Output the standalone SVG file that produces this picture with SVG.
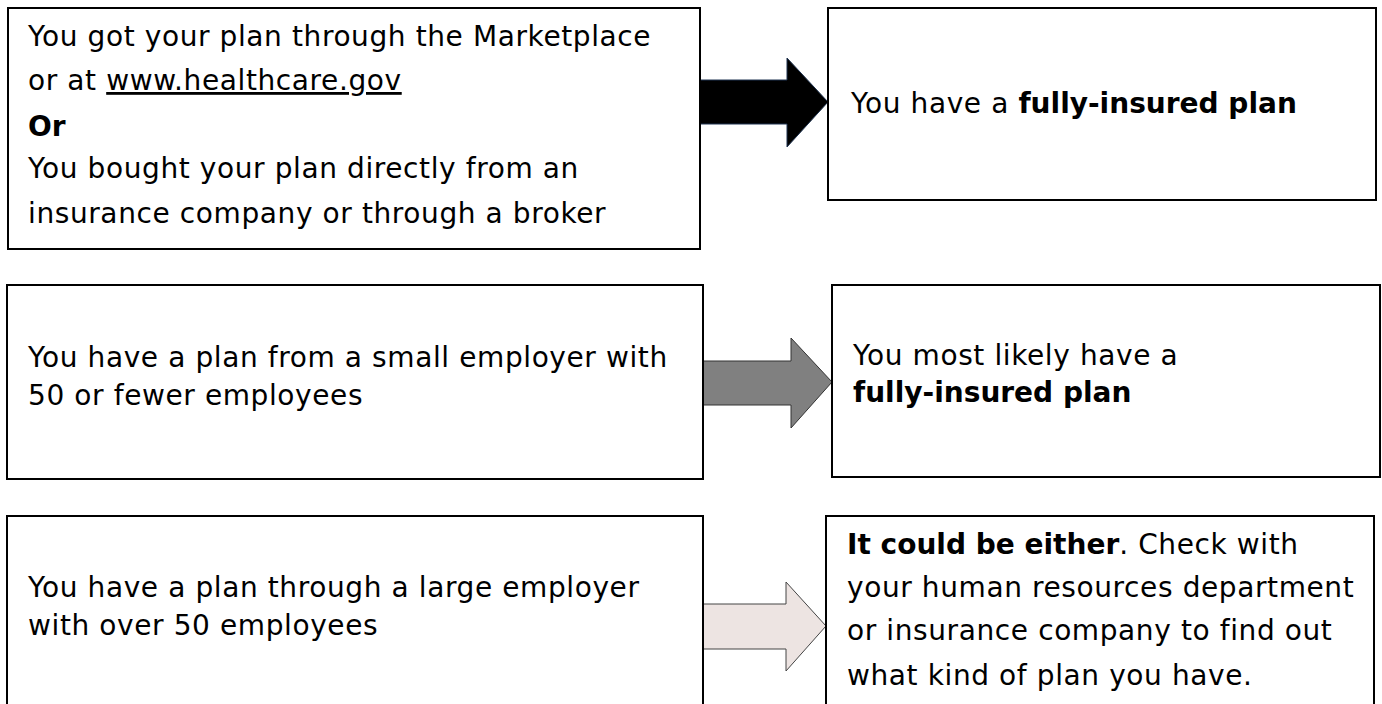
<svg xmlns="http://www.w3.org/2000/svg" width="1382" height="704" viewBox="0 0 1382 704">
<style>
.box{fill:#fff;stroke:#000;stroke-width:2}
.t{font-family:"DejaVu Sans","Liberation Sans",sans-serif;font-size:28px;letter-spacing:0.6px;fill:#000}
.b{font-weight:bold;letter-spacing:0px}
.u{text-decoration:underline}
</style>
<rect width="1382" height="704" fill="#fff"/>
<g id="connectors">
<polygon points="700,80 787,80 787,58 828,102 787,147 787,124 700,124" fill="#000" stroke="#1f3350" stroke-width="1"/>
<polygon points="703,361 791,361 791,338 832,382 791,428 791,405 703,405" fill="#808080" stroke="#333" stroke-width="1"/>
<polygon points="703,604 786,604 786,582 826,626 786,671 786,649 703,649" fill="#ede4e2" stroke="#444" stroke-width="1"/>
</g>
<g id="node-marketplace">
<rect class="box" x="8" y="8" width="692" height="241"/>
<text class="t" x="28" y="46">You got your plan through the Marketplace</text>
<text class="t" x="28" y="90">or at <tspan class="u">www.healthcare.gov</tspan></text>
<text class="t b" x="28" y="136">Or</text>
<text class="t" x="28" y="178">You bought your plan directly from an</text>
<text class="t" x="28" y="223">insurance company or through a broker</text>
</g>
<g id="node-fully-insured-1">
<rect class="box" x="828" y="8" width="548" height="192"/>
<text class="t" x="851" y="113">You have a <tspan class="b">fully-insured plan</tspan></text>
</g>
<g id="node-small-employer">
<rect class="box" x="7" y="285" width="696" height="194"/>
<text class="t" x="28" y="367">You have a plan from a small employer with</text>
<text class="t" x="28" y="405">50 or fewer employees</text>
</g>
<g id="node-fully-insured-2">
<rect class="box" x="832" y="285" width="548" height="192"/>
<text class="t" x="853" y="365">You most likely have a</text>
<text class="t b" x="853" y="402">fully-insured plan</text>
</g>
<g id="node-large-employer">
<rect class="box" x="7" y="516" width="696" height="200"/>
<text class="t" x="28" y="597">You have a plan through a large employer</text>
<text class="t" x="28" y="635">with over 50 employees</text>
</g>
<g id="node-either">
<rect class="box" x="826" y="516" width="548" height="200"/>
<text class="t" x="847" y="554"><tspan class="b">It could be either</tspan>. Check with</text>
<text class="t" x="847" y="597">your human resources department</text>
<text class="t" x="847" y="640">or insurance company to find out</text>
<text class="t" x="847" y="685">what kind of plan you have.</text>
</g>
</svg>
